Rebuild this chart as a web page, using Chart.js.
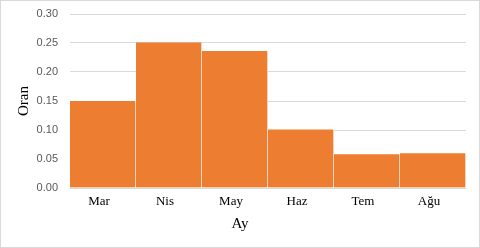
<!DOCTYPE html>
<html>
<head>
<meta charset="utf-8">
<script src="https://cdn.jsdelivr.net/npm/chart.js@4"></script>
<style>
  html, body { margin: 0; padding: 0; background: #fff; }
  #box { width: 478px; height: 246px; border: 1px solid #d9d9d9; position: relative; }
</style>
</head>
<body>
<div id="box"><canvas id="chart" width="478" height="246"></canvas></div>
<script>
// Data
const months = ['Mar', 'Nis', 'May', 'Haz', 'Tem', 'Ağu'];
const rates = [0.150, 0.251, 0.236, 0.101, 0.058, 0.060];
const yTicks = [0, 0.05, 0.10, 0.15, 0.20, 0.25, 0.30];

const ctx = document.getElementById('chart').getContext('2d');
new Chart(ctx, {
    type: 'bar',
    data: {
        labels: months,
        datasets: [{
            data: rates,
            backgroundColor: '#ED7D31',
            borderColor: '#ffffff',
            borderWidth: { left: 0, right: 1, top: 0, bottom: 0 },
            barPercentage: 1,
            categoryPercentage: 1
        }]
    },
    options: {
        responsive: false,
        animation: false,
        layout: { padding: { left: 0, right: 0, top: 13, bottom: 0 } },
        plugins: {
            legend: { display: false },
            tooltip: { enabled: false },
            // x axis title, centred on the whole chart like the original
            title: {
                display: true,
                position: 'bottom',
                text: 'Ay',
                color: '#000',
                font: { family: 'Liberation Serif', size: 15, weight: 'normal' },
                padding: { top: 0, bottom: 14 }
            }
        },
        scales: {
            x: {
                grid: { display: false, drawTicks: false },
                border: { display: false },
                ticks: {
                    color: '#000',
                    padding: 6,
                    labelOffset: -4,
                    font: { family: 'Liberation Serif', size: 13 }
                },
                afterFit: (axis) => { axis.height = 27; }
            },
            y: {
                min: 0,
                max: 0.30,
                // invisible tick marks give the gap between labels and plot
                grid: { color: '#d9d9d9', drawTicks: true, tickLength: 12, tickColor: 'rgba(0,0,0,0)' },
                border: { display: false },
                afterBuildTicks: (axis) => { axis.ticks = yTicks.map(v => ({ value: v })); },
                ticks: {
                    color: '#595959',
                    padding: 0,
                    font: { family: 'Liberation Sans', size: 11 },
                    callback: (v) => v.toFixed(2)
                },
                title: {
                    display: true,
                    text: 'Oran',
                    color: '#000',
                    font: { family: 'Liberation Serif', size: 15 },
                    padding: { top: 14, bottom: 0 }
                },
                afterFit: (axis) => { axis.width = 69; }
            },
            // empty right axis, only keeps the right margin
            yRight: {
                position: 'right',
                grid: { display: false },
                border: { display: false },
                ticks: { display: false },
                afterFit: (axis) => { axis.width = 13; }
            }
        }
    }
});
</script>
</body>
</html>
